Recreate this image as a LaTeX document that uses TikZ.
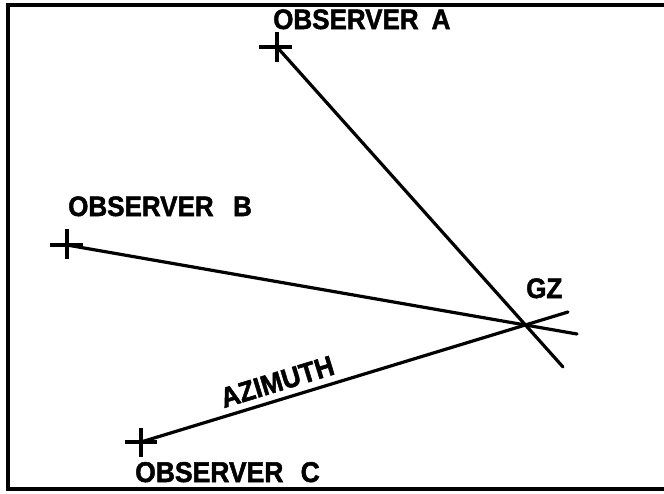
\documentclass[tikz,border=0pt]{standalone}
\usepackage{fontspec}
\usepackage{graphicx}
\setmainfont{Liberation Sans}[BoldFeatures={FakeBold=1.8}]
\newcommand{\tallt}[1]{\scalebox{1}[1.08]{#1}}
\begin{document}
\begin{tikzpicture}[x=1pt,y=-1pt,
  ray/.style={line width=3.2pt, line cap=round},
  crossmark/.style={line width=3.2pt},
  frameline/.style={line width=4pt},
  lbl/.style={font=\bfseries\fontsize{26}{30}\selectfont, inner sep=0pt, anchor=base west}]
\useasboundingbox (0,0) rectangle (664,493);
\begin{scope}
\clip (0,0) rectangle (664,493);
\draw[frameline] (680,4.5) -- (8,4.5) -- (8,489) -- (680,489);
\end{scope}
% points
\coordinate (A) at (277,47);
\coordinate (B) at (67,245);
\coordinate (C) at (141,442);
\coordinate (GZ) at (528,326);
\coordinate (Aend) at (563,367);
\coordinate (Bend) at (577,334);
\coordinate (Cend) at (568,312);
% rays
\draw[ray] (A) -- (Aend);
\draw[ray] (B) -- (Bend);
\draw[ray] (C) -- (Cend);
% crosses
\draw[crossmark] (A) ++(-18,0) -- ++(33,0);
\draw[crossmark] (A) ++(0,-15) -- ++(0,30);
\draw[crossmark] (B) ++(-17,0) -- ++(33,0);
\draw[crossmark] (B) ++(0,-16) -- ++(0,30);
\draw[crossmark] (C) ++(-16,0) -- ++(32,0);
\draw[crossmark] (C) ++(0,-14) -- ++(0,29);
% labels
\node[lbl] (la) at (273,29) {\tallt{OBSERVER\hspace{0.5em}A}};
\node[lbl] (lb) at (68,216) {\tallt{OBSERVER\hspace{0.75em}B}};
\node[lbl, font=\bfseries\fontsize{26.5}{30}\selectfont] (lc) at (135,482) {\tallt{OBSERVER\hspace{0.65em}C}};
\node[lbl] (lgz) at (526,298) {\tallt{GZ}};
\node[lbl, anchor=base, rotate=17] (laz) at (280,391) {\tallt{AZIMUTH}};
\end{tikzpicture}
\end{document}
